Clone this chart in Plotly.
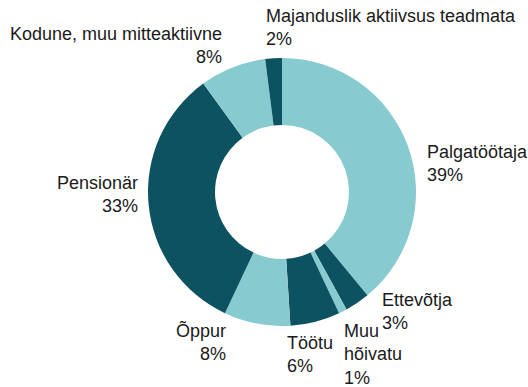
import math
import plotly.graph_objects as go

# Population by economic activity status (share, %)
categories = [
    "Palgatöötaja",
    "Ettevõtja",
    "Muu hõivatu",
    "Töötu",
    "Õppur",
    "Pensionär",
    "Kodune, muu mitteaktiivne",
    "Majanduslik aktiivsus teadmata",
]
shares = [39, 3, 1, 6, 8, 33, 8, 2]
# label text as written next to each slice (line breaks where the label wraps)
label_text = [
    "Palgatöötaja",
    "Ettevõtja",
    "Muu<br>hõivatu",
    "Töötu",
    "Õppur",
    "Pensionär",
    "Kodune, muu mitteaktiivne",
    "Majanduslik aktiivsus teadmata",
]

LIGHT = "#87cad0"
DARK = "#0c5260"
colors = [LIGHT if i % 2 == 0 else DARK for i in range(len(shares))]

W, H = 528, 387
CX, CY, R = 282, 192, 134   # ring centre and outer radius, px
HOLE = 0.5
LABEL_R = 150                # radius where labels are anchored, px

# per-label fine placement (px, x right / y down) and text side
nudges = [(2, 22), (14, -5), (-8, 29), (-34, 17), (-26, 3), (7, -12), (-3, -7), (-9, -15)]
sides = ["left", "left", "left", "left", "right", "right", "right", "left"]

fig = go.Figure(
    go.Pie(
        labels=categories,
        values=shares,
        sort=False,
        direction="clockwise",
        rotation=0,
        hole=HOLE,
        marker=dict(colors=colors, line=dict(width=0)),
        textinfo="none",
        hoverinfo="label+percent",
        showlegend=False,
        domain=dict(
            x=[(CX - R) / W, (CX + R) / W],
            y=[(H - CY - R) / H, (H - CY + R) / H],
        ),
    )
)

total = sum(shares)
cum = 0.0
annotations = []
for txt, v, (dx, dy), side in zip(label_text, shares, nudges, sides):
    mid = (cum + v / 2) / total * 2 * math.pi
    cum += v
    px = CX + LABEL_R * math.sin(mid) + dx
    py = CY - LABEL_R * math.cos(mid) + dy
    pct = round(v / total * 100)
    annotations.append(
        dict(
            x=px / W,
            y=1 - py / H,
            xref="paper",
            yref="paper",
            text=f"{txt}<br>{pct}%",
            showarrow=False,
            xanchor=side,
            yanchor="middle",
            align=side,
            font=dict(family="Liberation Sans, Arial, sans-serif", size=18, color="#1a1a1a"),
        )
    )

fig.update_layout(
    width=W,
    height=H,
    margin=dict(l=0, r=0, t=0, b=0),
    paper_bgcolor="white",
    plot_bgcolor="white",
    annotations=annotations,
)

fig.write_html("out.html")
